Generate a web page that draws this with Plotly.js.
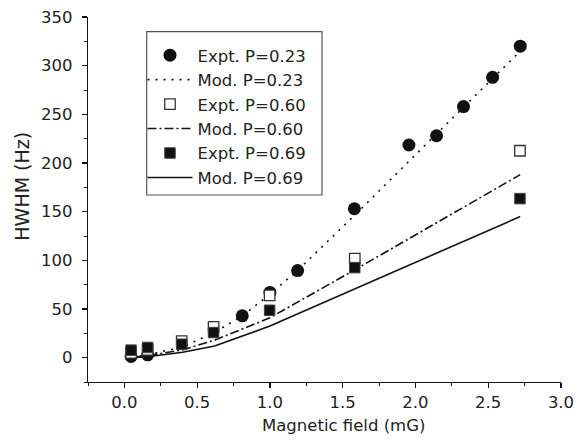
<!DOCTYPE html>
<html>
<head>
<meta charset="utf-8">
<script src="https://cdn.plot.ly/plotly-3.0.1.min.js"></script>
<style>html,body{margin:0;padding:0;background:#fff;}#chart{width:580px;height:448px;}</style>
</head>
<body>
<div id="chart"></div>
<script>
// Experimental data (Magnetic field in mG, HWHM in Hz)
var expt23X = [0.046, 0.16, 0.81, 1.00, 1.19, 1.58, 1.955, 2.145, 2.33, 2.53, 2.72];
var expt23Y = [1.3, 2.9, 43, 67, 89.5, 153, 218.5, 228, 258, 288, 320];
var expt60X = [0.046, 0.16, 0.394, 0.613, 0.998, 1.583, 2.718];
var expt60Y = [5, 8, 17, 31.6, 64, 101.7, 212.6];
var expt69X = [0.046, 0.16, 0.394, 0.613, 0.998, 1.583, 2.718];
var expt69Y = [7.7, 10.5, 13.8, 25.8, 48.7, 92.5, 163.4];
// Model curves
var mod23X = [0.05, 0.16, 0.4, 0.62, 0.81, 1.0, 1.2, 1.58, 1.95, 2.14, 2.33, 2.52, 2.72];
var mod23Y = [0.5, 3, 11, 26, 43, 65, 91, 146, 201, 229, 257, 285, 315];
var mod60X = [0.05, 0.16, 0.4, 0.62, 1.0, 1.58, 2.72];
var mod60Y = [0, 2, 8, 18, 41, 90, 188];
var mod69X = [0.05, 0.16, 0.4, 0.62, 1.0, 1.58, 2.72];
var mod69Y = [0, 1, 5.5, 12, 32.5, 70.5, 145];

var xTickVals = [0, 0.5, 1.0, 1.5, 2.0, 2.5, 3.0];
var xTickText = ['0.0', '0.5', '1.0', '1.5', '2.0', '2.5', '3.0'];
var yTickVals = [0, 50, 100, 150, 200, 250, 300, 350];

var FONT = 'DejaVu Sans, Liberation Sans, Arial, sans-serif';
var INK = '#111111';

var traces = [
  {x: mod23X, y: mod23Y, mode: 'lines', name: 'Mod. P=0.23', legendrank: 2,
   line: {color: INK, width: 1.6, dash: '2px,6px'}},
  {x: mod60X, y: mod60Y, mode: 'lines', name: 'Mod. P=0.60', legendrank: 4,
   line: {color: INK, width: 1.6, dash: '9px,3px,2px,3px'}},
  {x: mod69X, y: mod69Y, mode: 'lines', name: 'Mod. P=0.69', legendrank: 6,
   line: {color: INK, width: 1.6}},
  {x: expt23X, y: expt23Y, mode: 'markers', name: 'Expt. P=0.23', legendrank: 1,
   marker: {symbol: 'circle', size: 13, color: INK, line: {width: 0}}},
  {x: expt60X, y: expt60Y, mode: 'markers', name: 'Expt. P=0.60', legendrank: 3,
   marker: {symbol: 'square', size: 10.5, color: '#ffffff', line: {color: '#333333', width: 1.3}}},
  {x: expt69X, y: expt69Y, mode: 'markers', name: 'Expt. P=0.69', legendrank: 5,
   marker: {symbol: 'square', size: 10.5, color: INK, line: {color: '#444444', width: 1}}}
];

var layout = {
  width: 580, height: 448,
  margin: {l: 88, r: 19, t: 17, b: 66, pad: 0},
  paper_bgcolor: '#ffffff', plot_bgcolor: '#ffffff',
  font: {family: FONT, size: 16.5, color: '#222222'},
  showlegend: true,
  legend: {
    x: 0.1152, y: 0.9425, xanchor: 'left', yanchor: 'top',
    bgcolor: 'rgba(0,0,0,0)', borderwidth: 0, itemwidth: 45,
    font: {family: FONT, size: 16.5, color: '#222222'},
    tracegroupgap: 0
  },
  xaxis: {
    range: [-0.25, 3.0], showgrid: false, zeroline: false,
    showline: true, linecolor: INK, linewidth: 1.2, mirror: false,
    ticks: 'outside', ticklen: 5, tickwidth: 1.2, tickcolor: INK,
    tickvals: xTickVals, ticktext: xTickText,
    tickfont: {family: FONT, size: 16.5, color: '#222222'},
    minor: {dtick: 0.25, tick0: 0, ticks: 'outside', ticklen: 3, tickwidth: 1, tickcolor: INK},
    ticklabelstandoff: 0
  },
  yaxis: {
    range: [-25, 350], showgrid: false, zeroline: false,
    showline: true, linecolor: INK, linewidth: 1.2, mirror: false,
    ticks: 'outside', ticklen: 5, tickwidth: 1.2, tickcolor: INK,
    tickvals: yTickVals,
    tickfont: {family: FONT, size: 16.5, color: '#222222'},
    minor: {dtick: 25, tick0: 0, ticks: 'outside', ticklen: 3, tickwidth: 1, tickcolor: INK},
    ticklabelstandoff: 6
  },
  shapes: [{
    type: 'rect', xref: 'paper', yref: 'paper',
    x0: 0.1241, x1: 0.4947, y0: 0.5123, y1: 0.9597,
    line: {color: '#555555', width: 1.2}, fillcolor: 'rgba(0,0,0,0)', layer: 'above'
  }],
  annotations: [
    {text: 'Magnetic field (mG)', xref: 'paper', yref: 'paper', x: 0.5412, y: -0.12,
     xanchor: 'center', yanchor: 'middle', showarrow: false,
     font: {family: FONT, size: 16.5, color: '#222222'}},
    {text: 'HWHM (Hz)', xref: 'paper', yref: 'paper', x: -0.1402, y: 0.537,
     xanchor: 'center', yanchor: 'middle', showarrow: false, textangle: -90,
     font: {family: FONT, size: 19, color: '#222222'}}
  ]
};

Plotly.newPlot('chart', traces, layout, {displayModeBar: false, staticPlot: true});
</script>
</body>
</html>
